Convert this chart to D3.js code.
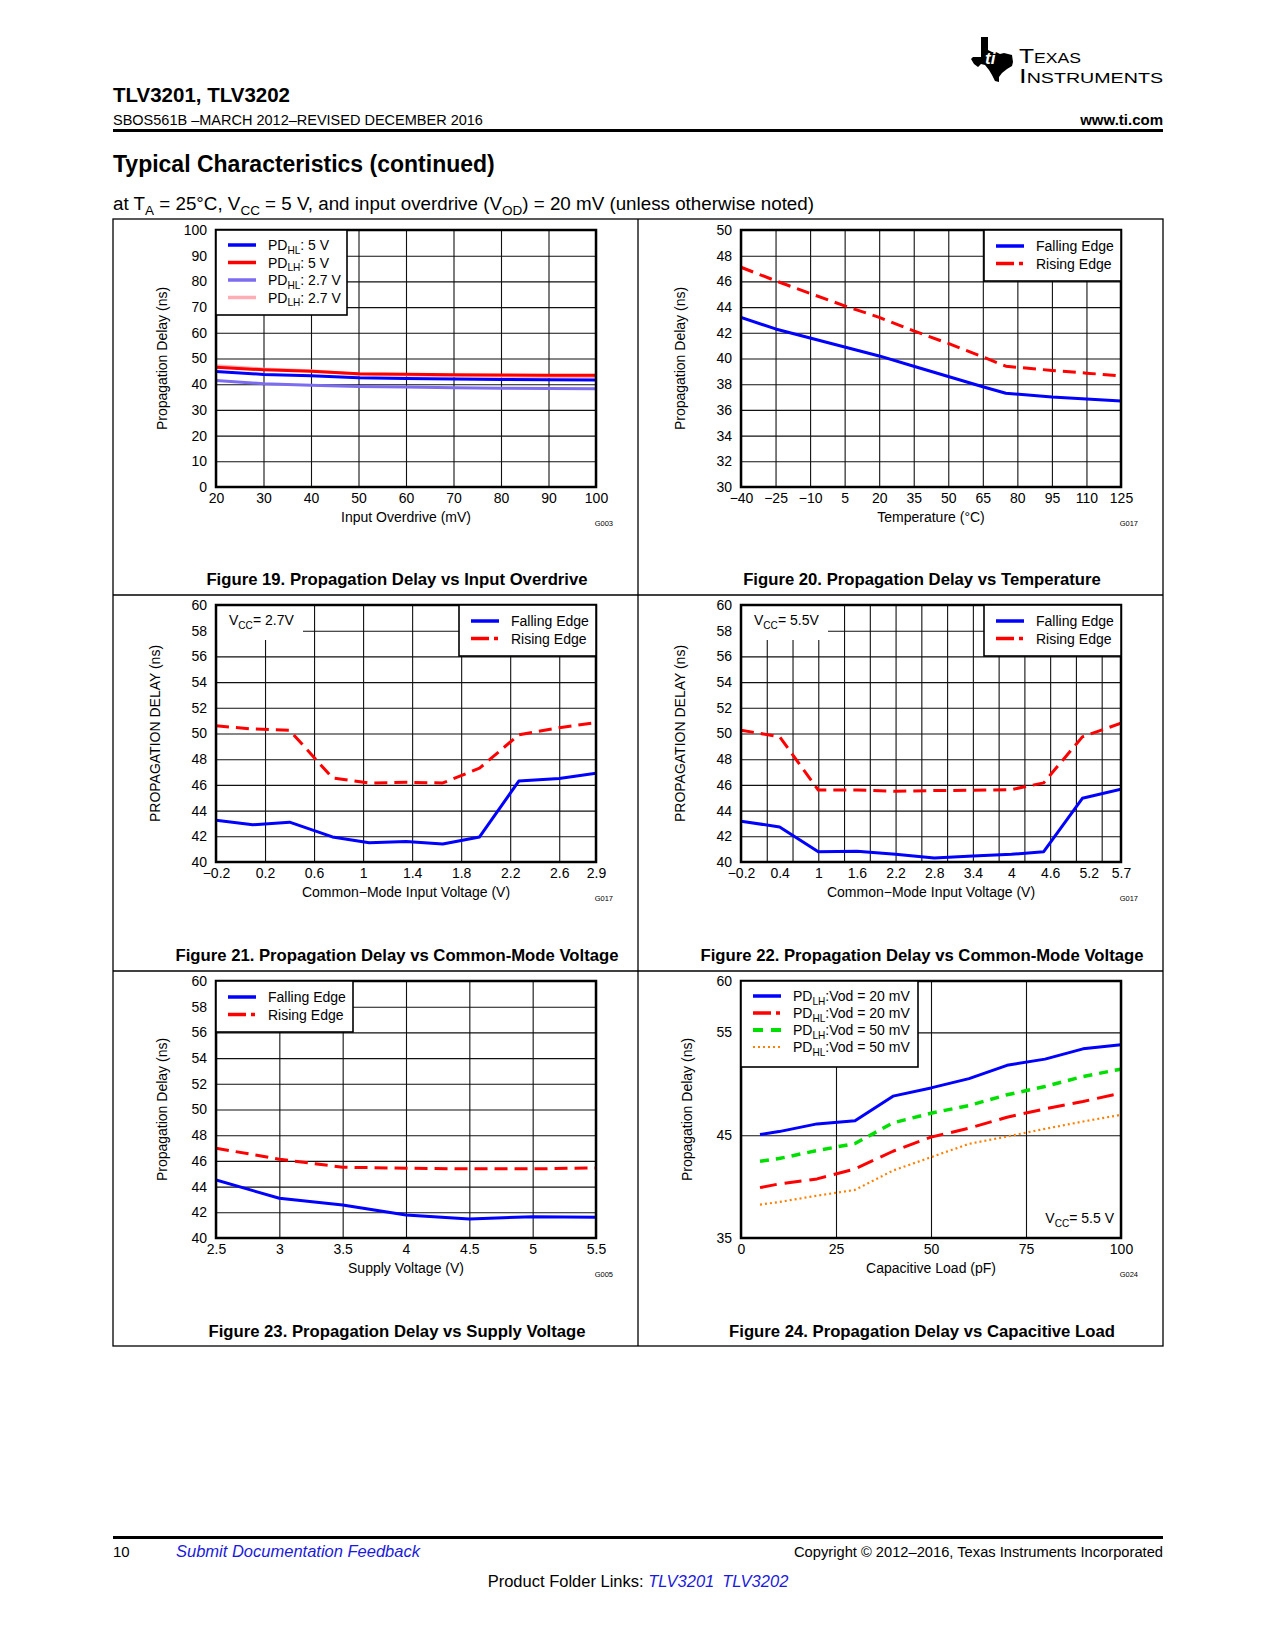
<!DOCTYPE html>
<html>
<head>
<meta charset="utf-8">
<script src="https://cdn.jsdelivr.net/npm/d3@7"></script>
<style>
  body { margin: 0; background: #fff; }
  svg { display: block; font-family: "Liberation Sans", Arial, Helvetica, sans-serif; }
</style>
</head>
<body>
<svg id="page" width="1275" height="1650"></svg>
<script>
// Figure 19 - input overdrive (mV)
const odX = [20, 30, 40, 50, 60, 70, 80, 90, 100];
const odHl5 = [44.9, 43.8, 43.3, 42.5, 42.2, 42.0, 41.8, 41.7, 41.6];
const odLh5 = [46.6, 45.6, 45.0, 44.1, 43.9, 43.7, 43.6, 43.5, 43.5];
const odHl27 = [41.4, 40.2, 39.6, 39.1, 38.9, 38.6, 38.4, 38.3, 38.2];
const odLh27 = [47.2, 45.9, 45.2, 43.9, 43.6, 43.3, 43.1, 43.0, 42.9];

// Figure 20 - temperature
const tempX = [-40, -25, -10, 5, 20, 35, 50, 65, 75, 95, 110, 125];
const tempFall = [43.2, 42.3, 41.6, 40.9, 40.2, 39.4, 38.6, 37.8, 37.3, 37.0, 36.85, 36.7];
const tempRise = [47.1, 46.05, 45.06, 44.1, 43.2, 42.15, 41.17, 40.13, 39.4, 39.07, 38.86, 38.65];

// Figure 21 - common mode, Vcc 2.7 V
const cm27X = [-0.2, 0.1, 0.4, 0.75, 1.05, 1.35, 1.65, 1.95, 2.27, 2.6, 2.9];
const cm27Fall = [43.25, 42.9, 43.1, 41.95, 41.5, 41.6, 41.4, 41.95, 46.3, 46.5, 46.9];
const cm27Rise = [50.6, 50.35, 50.25, 46.55, 46.15, 46.2, 46.15, 47.3, 49.9, 50.45, 50.85];

// Figure 22 - common mode, Vcc 5.5 V
const cm55X = [-0.2, 0.4, 1.0, 1.6, 2.2, 2.8, 3.4, 4.0, 4.5, 5.1, 5.7];
const cm55Fall = [43.17, 42.73, 40.8, 40.83, 40.6, 40.31, 40.47, 40.6, 40.8, 44.96, 45.66];
const cm55Rise = [50.26, 49.74, 45.6, 45.6, 45.5, 45.56, 45.58, 45.64, 46.16, 49.74, 50.8];

// Figure 23 - supply voltage
const supX = [2.5, 3, 3.5, 4, 4.5, 5, 5.5];
const supFall = [44.52, 43.09, 42.57, 41.79, 41.48, 41.66, 41.61];
const supRise = [46.99, 46.13, 45.51, 45.43, 45.38, 45.38, 45.45];

// Figure 24 - capacitive load (pF)
const capX = [5, 10, 20, 30, 40, 50, 60, 70, 80, 90, 100];
const capLh20 = [45.06, 45.35, 46.1, 46.4, 48.8, 49.6, 50.5, 51.8, 52.4, 53.4, 53.8];
const capHl20 = [39.9, 40.26, 40.75, 41.72, 43.44, 44.81, 45.68, 46.75, 47.56, 48.28, 49.09];
const capLh50 = [42.47, 42.73, 43.5, 44.19, 46.2, 47.14, 47.89, 48.93, 49.74, 50.71, 51.43];
const capHl50 = [38.25, 38.5, 39.12, 39.68, 41.56, 42.86, 44.16, 44.87, 45.62, 46.33, 46.98];

// tick values
const ticks0to100 = [0, 10, 20, 30, 40, 50, 60, 70, 80, 90, 100];
const odTicks = [20, 30, 40, 50, 60, 70, 80, 90, 100];
const tempTicks = [-40, -25, -10, 5, 20, 35, 50, 65, 80, 95, 110, 125];
const ticks30to50 = [30, 32, 34, 36, 38, 40, 42, 44, 46, 48, 50];
const ticks40to60 = [40, 42, 44, 46, 48, 50, 52, 54, 56, 58, 60];
const cm27Ticks = [-0.2, 0.2, 0.6, 1, 1.4, 1.8, 2.2, 2.6, 2.9];
const cm55Ticks = [-0.2, 0.4, 1, 1.6, 2.2, 2.8, 3.4, 4, 4.6, 5.2, 5.7];
const cm55Grid = [-0.2, 0.2, 0.6, 1, 1.4, 1.8, 2.2, 2.6, 3, 3.4, 3.8, 4.2, 4.6, 5, 5.4];
const supTicks = [2.5, 3, 3.5, 4, 4.5, 5, 5.5];
const capTicks = [0, 25, 50, 75, 100];
const capYTicks = [35, 45, 55, 60];
const capYGrid = [45, 55];

const BLUE = '#0000ff', RED = '#ff0000';
const PW = 380, PH = 257;
const svg = d3.select('#page');
const fmt = d => String(d).replace('-', '\u2212');

// text with _{sub} markup
function rich(sel, str, size) {
  const parts = str.split(/(_\{[^}]*\})/).filter(p => p.length);
  let shifted = false;
  parts.forEach(p => {
    if (p.startsWith('_{')) {
      sel.append('tspan').attr('font-size', size * 0.72).attr('dy', size * 0.28).text(p.slice(2, -1));
      shifted = true;
    } else {
      const t = sel.append('tspan').text(p);
      if (shifted) { t.attr('dy', -size * 0.28); shifted = false; }
    }
  });
}

function drawChart(o) {
  const g = svg.append('g').attr('transform', `translate(${o.left},${o.top})`);
  const x = d3.scaleLinear().domain(o.xDomain).range([0, PW]);
  const y = d3.scaleLinear().domain(o.yDomain).range([PH, 0]);

  // grid
  g.append('g').attr('transform', `translate(0,${PH})`)
    .call(d3.axisBottom(x).tickValues(o.xGrid || o.xTicks).tickSize(-PH).tickFormat(''))
    .call(a => a.select('.domain').remove())
    .call(a => a.selectAll('line').attr('stroke', '#111').attr('stroke-width', 1.1));
  g.append('g')
    .call(d3.axisLeft(y).tickValues(o.yGrid || o.yTicks).tickSize(-PW).tickFormat(''))
    .call(a => a.select('.domain').remove())
    .call(a => a.selectAll('line').attr('stroke', '#111').attr('stroke-width', 1.1));

  // tick labels
  g.append('g').attr('transform', `translate(0,${PH})`)
    .call(d3.axisBottom(x).tickValues(o.xTicks).tickSize(0).tickPadding(6).tickFormat(fmt))
    .call(a => a.select('.domain').remove())
    .call(a => a.selectAll('text').attr('font-size', 14).attr('font-family', null).attr('fill', '#000'));
  g.append('g')
    .call(d3.axisLeft(y).tickValues(o.yTicks).tickSize(0).tickPadding(9).tickFormat(fmt))
    .call(a => a.select('.domain').remove())
    .call(a => a.selectAll('text').attr('font-size', 14).attr('font-family', null).attr('fill', '#000'));

  // label mask (white patch over grid)
  if (o.note) {
    g.append('rect').attr('x', 1).attr('y', 1).attr('width', o.note.w).attr('height', 34).attr('fill', '#fff');
  }

  const clipId = 'clip' + o.id;
  g.append('clipPath').attr('id', clipId).append('rect').attr('width', PW).attr('height', PH);
  const line = d3.line().x(d => x(d[0])).y(d => y(d[1]));
  const lines = g.append('g').attr('clip-path', `url(#${clipId})`);
  o.series.forEach(s => {
    lines.append('path')
      .datum(o.xs.map((v, i) => [v, s.values[i]]))
      .attr('d', line)
      .attr('fill', 'none')
      .attr('stroke', s.color)
      .attr('stroke-width', s.width || 3)
      .attr('stroke-dasharray', s.dash || null)
      .attr('stroke-linejoin', 'round');
  });

  // frame
  g.append('rect').attr('width', PW).attr('height', PH)
    .attr('fill', 'none').attr('stroke', '#000').attr('stroke-width', 2.5);

  // note text
  if (o.note) {
    const t = g.append('text').attr('x', o.note.x).attr('y', o.note.y).attr('font-size', 14);
    rich(t, o.note.text, 14);
  }

  // legend
  const L = o.legend;
  const lg = g.append('g').attr('transform', `translate(${L.x},${L.y})`);
  lg.append('rect').attr('width', L.w).attr('height', L.h)
    .attr('fill', '#fff').attr('stroke', '#000').attr('stroke-width', 1.6);
  o.series.slice().sort((a, b) => a.order - b.order).forEach((s, i) => {
    const yy = L.first + i * L.step;
    lg.append('line').attr('x1', L.lx).attr('x2', L.lx + 28).attr('y1', yy).attr('y2', yy)
      .attr('stroke', s.color).attr('stroke-width', s.legendWidth || 3.5)
      .attr('stroke-dasharray', s.legendDash || s.dash || null);
    const t = lg.append('text').attr('x', L.tx).attr('y', yy + 5).attr('font-size', 14);
    rich(t, s.label, 14);
  });

  // axis titles
  g.append('text').attr('x', PW / 2).attr('y', PH + 35).attr('text-anchor', 'middle')
    .attr('font-size', 14).text(o.xTitle);
  g.append('text').attr('transform', `translate(${-o.yOff},${PH / 2}) rotate(-90)`)
    .attr('text-anchor', 'middle').attr('dy', '0.35em').attr('font-size', 14).text(o.yTitle);
  g.append('text').attr('x', PW + 17).attr('y', PH + 39).attr('text-anchor', 'end')
    .attr('font-size', 7.5).text(o.code);
}

const risingDash = '13,7';
const risingLegend = '18,5,4,5';
const edgeLegend = (x, y) => ({ x, y, w: 137, h: 51, lx: 12, tx: 52, first: 16, step: 17.5 });

drawChart({
  id: 19, left: 216, top: 230, xDomain: [20, 100], yDomain: [0, 100],
  xTicks: odTicks, yTicks: ticks0to100, xs: odX,
  series: [
    { label: 'PD_{LH}: 2.7 V', values: odLh27, color: '#ffadb4', order: 3 },
    { label: 'PD_{HL}: 2.7 V', values: odHl27, color: '#7b6cf0', order: 2 },
    { label: 'PD_{LH}: 5 V', values: odLh5, color: RED, order: 1 },
    { label: 'PD_{HL}: 5 V', values: odHl5, color: BLUE, order: 0 }
  ],
  legend: { x: 0, y: 0, w: 131, h: 85, lx: 12, tx: 52, first: 15, step: 17.5 },
  xTitle: 'Input Overdrive (mV)', yTitle: 'Propagation Delay (ns)', yOff: 54, code: 'G003'
});

drawChart({
  id: 20, left: 741, top: 230, xDomain: [-40, 125], yDomain: [30, 50],
  xTicks: tempTicks, yTicks: ticks30to50, xs: tempX,
  series: [
    { label: 'Rising Edge', values: tempRise, color: RED, dash: risingDash, legendDash: risingLegend, order: 1 },
    { label: 'Falling Edge', values: tempFall, color: BLUE, order: 0 }
  ],
  legend: edgeLegend(PW - 137, 0),
  xTitle: 'Temperature (\u00b0C)', yTitle: 'Propagation Delay (ns)', yOff: 61, code: 'G017'
});

drawChart({
  id: 21, left: 216, top: 605, xDomain: [-0.2, 2.9], yDomain: [40, 60],
  xTicks: cm27Ticks, yTicks: ticks40to60, xs: cm27X,
  series: [
    { label: 'Rising Edge', values: cm27Rise, color: RED, dash: risingDash, legendDash: risingLegend, order: 1 },
    { label: 'Falling Edge', values: cm27Fall, color: BLUE, order: 0 }
  ],
  note: { text: 'V_{CC}= 2.7V', x: 13, y: 20, w: 86 },
  legend: edgeLegend(PW - 137, 0),
  xTitle: 'Common\u2212Mode Input Voltage (V)', yTitle: 'PROPAGATION DELAY (ns)', yOff: 61, code: 'G017'
});

drawChart({
  id: 22, left: 741, top: 605, xDomain: [-0.2, 5.7], yDomain: [40, 60],
  xTicks: cm55Ticks, xGrid: cm55Grid, yTicks: ticks40to60, xs: cm55X,
  series: [
    { label: 'Rising Edge', values: cm55Rise, color: RED, dash: risingDash, legendDash: risingLegend, order: 1 },
    { label: 'Falling Edge', values: cm55Fall, color: BLUE, order: 0 }
  ],
  note: { text: 'V_{CC}= 5.5V', x: 13, y: 20, w: 86 },
  legend: edgeLegend(PW - 137, 0),
  xTitle: 'Common\u2212Mode Input Voltage (V)', yTitle: 'PROPAGATION DELAY (ns)', yOff: 61, code: 'G017'
});

drawChart({
  id: 23, left: 216, top: 981, xDomain: [2.5, 5.5], yDomain: [40, 60],
  xTicks: supTicks, yTicks: ticks40to60, xs: supX,
  series: [
    { label: 'Rising Edge', values: supRise, color: RED, dash: risingDash, legendDash: risingLegend, order: 1 },
    { label: 'Falling Edge', values: supFall, color: BLUE, order: 0 }
  ],
  legend: edgeLegend(0, 0),
  xTitle: 'Supply Voltage (V)', yTitle: 'Propagation Delay (ns)', yOff: 54, code: 'G005'
});

drawChart({
  id: 24, left: 741, top: 981, xDomain: [0, 100], yDomain: [35, 60],
  xTicks: capTicks, yTicks: capYTicks, yGrid: capYGrid, xs: capX,
  series: [
    { label: 'PD_{HL}:Vod = 50 mV', values: capHl50, color: '#ff8000', width: 2.2, dash: '2,3', legendWidth: 2.2, legendDash: '2,3', order: 3 },
    { label: 'PD_{LH}:Vod = 50 mV', values: capLh50, color: '#00e000', width: 3.5, dash: '9,7', legendWidth: 4, legendDash: '10,8', order: 2 },
    { label: 'PD_{HL}:Vod = 20 mV', values: capHl20, color: RED, dash: '17,8', legendDash: risingLegend, order: 1 },
    { label: 'PD_{LH}:Vod = 20 mV', values: capLh20, color: BLUE, order: 0 }
  ],
  legend: { x: 0, y: 0, w: 177, h: 86, lx: 12, tx: 52, first: 15, step: 17 },
  xTitle: 'Capacitive Load (pF)', yTitle: 'Propagation Delay (ns)', yOff: 54, code: 'G024'
});

// Vcc note for figure 24
const n24 = svg.append('text').attr('x', 1114).attr('y', 1223).attr('text-anchor', 'end').attr('font-size', 14);
rich(n24, 'V_{CC}= 5.5 V', 14);

// page frame
const frame = svg.append('g').attr('stroke', '#000').attr('stroke-width', 1.3).attr('fill', 'none');
frame.append('rect').attr('x', 113).attr('y', 219).attr('width', 1050).attr('height', 1127);
frame.append('line').attr('x1', 638).attr('x2', 638).attr('y1', 219).attr('y2', 1346);
[595, 971].forEach(v => frame.append('line').attr('x1', 113).attr('x2', 1163).attr('y1', v).attr('y2', v));

// captions
const captions = [
  ['Figure 19. Propagation Delay vs Input Overdrive', 397, 585],
  ['Figure 20. Propagation Delay vs Temperature', 922, 585],
  ['Figure 21. Propagation Delay vs Common-Mode Voltage', 397, 961],
  ['Figure 22. Propagation Delay vs Common-Mode Voltage', 922, 961],
  ['Figure 23. Propagation Delay vs Supply Voltage', 397, 1337],
  ['Figure 24. Propagation Delay vs Capacitive Load', 922, 1337]
];
captions.forEach(c => svg.append('text').attr('x', c[1]).attr('y', c[2]).attr('text-anchor', 'middle')
  .attr('font-size', 16.7).attr('font-weight', 'bold').text(c[0]));

// header
svg.append('text').attr('x', 113).attr('y', 102).attr('font-size', 20.5).attr('font-weight', 'bold').text('TLV3201, TLV3202');
svg.append('text').attr('x', 113).attr('y', 125).attr('font-size', 14.5).text('SBOS561B \u2013MARCH 2012\u2013REVISED DECEMBER 2016');
svg.append('text').attr('x', 1163).attr('y', 125).attr('text-anchor', 'end').attr('font-size', 15).attr('font-weight', 'bold').text('www.ti.com');
svg.append('rect').attr('x', 113).attr('y', 129).attr('width', 1050).attr('height', 3).attr('fill', '#000');
svg.append('text').attr('x', 113).attr('y', 172).attr('font-size', 23).attr('font-weight', 'bold').text('Typical Characteristics (continued)');
const cond = svg.append('text').attr('x', 113).attr('y', 210).attr('font-size', 18.8);
rich(cond, 'at T_{A} = 25\u00b0C, V_{CC} = 5 V, and input overdrive (V_{OD}) = 20 mV (unless otherwise noted)', 18.8);

// TI logo
const logo = svg.append('g').attr('transform', 'translate(971,37)');
logo.append('path')
  .attr('d', 'M10,0 L17,0 L17,13 L21,15 L25,15 L29,17 L33,16 L37,17 L41,18 L42,25 L41,29 L36,32 L31,36 L28,40 L28,45 L24,44 L21,38 L18,33 L14,28 L10,27 L7,30 L3,27 L0,22 L2,20 L10,20 Z')
  .attr('fill', '#000');
logo.append('text').attr('x', 14).attr('y', 27).attr('font-size', 17).attr('font-weight', 'bold')
  .attr('font-style', 'italic').attr('fill', '#fff').text('ti');
const tx = logo.append('text').attr('x', 48).attr('y', 26).attr('font-size', 15).attr('textLength', 62).attr('lengthAdjust', 'spacingAndGlyphs');
tx.append('tspan').attr('font-size', 21).text('T');
tx.append('tspan').text('EXAS');
const ins = logo.append('text').attr('x', 48).attr('y', 46).attr('font-size', 15).attr('textLength', 144).attr('lengthAdjust', 'spacingAndGlyphs');
ins.append('tspan').attr('font-size', 21).text('I');
ins.append('tspan').text('NSTRUMENTS');

// footer
svg.append('rect').attr('x', 113).attr('y', 1536).attr('width', 1050).attr('height', 3).attr('fill', '#000');
svg.append('text').attr('x', 113).attr('y', 1557).attr('font-size', 15).text('10');
svg.append('text').attr('x', 176).attr('y', 1557).attr('font-size', 16.5).attr('font-style', 'italic')
  .attr('fill', '#1a1adc').text('Submit Documentation Feedback');
svg.append('text').attr('x', 1163).attr('y', 1557).attr('text-anchor', 'end').attr('font-size', 14.7)
  .text('Copyright \u00a9 2012\u20132016, Texas Instruments Incorporated');
const pf = svg.append('text').attr('x', 638).attr('y', 1587).attr('text-anchor', 'middle').attr('font-size', 16.5);
pf.append('tspan').text('Product Folder Links: ');
pf.append('tspan').attr('font-style', 'italic').attr('fill', '#1a1adc').text('TLV3201');
pf.append('tspan').attr('font-style', 'italic').attr('fill', '#1a1adc').attr('dx', 8).text('TLV3202');
</script>
</body>
</html>
